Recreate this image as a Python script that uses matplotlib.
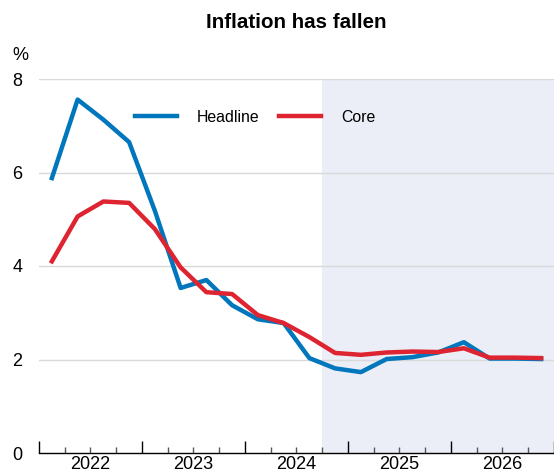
import numpy as np
import matplotlib.pyplot as plt

plt.rcParams['font.family'] = ['Liberation Sans', 'DejaVu Sans']

# Datos trimestrales (2022T1 - 2026T4)
anios = [2022, 2023, 2024, 2025, 2026]
trimestres = [1, 2, 3, 4]
headline = [5.88, 7.56, 7.13, 6.65, 5.18, 3.53, 3.70, 3.16, 2.86, 2.78,
            2.03, 1.81, 1.73, 2.01, 2.05, 2.15, 2.37, 2.02, 2.02, 2.01]
core = [4.10, 5.06, 5.38, 5.35, 4.79, 3.97, 3.44, 3.40, 2.95, 2.78,
        2.48, 2.14, 2.10, 2.15, 2.17, 2.16, 2.24, 2.04, 2.04, 2.03]
inicio_prevision = 2024.75

x = np.array([a + (q - 0.5) / 4 for a in anios for q in trimestres])

fig = plt.figure(figsize=(5.54, 4.75), dpi=100)
ax = fig.add_axes([39/554, 22/475, 1 - 39/554, 374/475])

ax.axvspan(inicio_prevision, 2027, color='#EBEEF6', lw=0, zorder=0)
for v in [2, 4, 6, 8]:
    ax.axhline(v, color='#D9D9D9', lw=1, zorder=1)

ax.plot(x, headline, color='#0077BD', lw=3.2, label='Headline', zorder=3)
ax.plot(x, core, color='#DD2430', lw=3.2, label='Core', zorder=4)

ax.set_xlim(2022, 2027)
ax.set_ylim(0, 8)
ax.set_yticks([0, 2, 4, 6, 8])
ax.tick_params(axis='y', length=0, labelsize=13, pad=12)

ax.set_xticks(range(2022, 2028))
ax.set_xticklabels([])
ax.set_xticks(np.arange(2022, 2027.01, 0.25), minor=True)
ax.tick_params(axis='x', which='major', direction='in', length=9, width=1, color='black')
ax.tick_params(axis='x', which='minor', direction='in', length=4, width=1, color='#555555')
# etiquetas de año centradas en cada año
for a in anios:
    ax.text(a + 0.5, -16/374, str(a), transform=ax.get_xaxis_transform(),
            ha='center', va='baseline', fontsize=13)

for s in ['top', 'right', 'left']:
    ax.spines[s].set_visible(False)
ax.spines['bottom'].set_linewidth(1)

ax.legend(loc='center left', bbox_to_anchor=(0.186, 0.898), ncol=2, frameon=False,
          fontsize=11.4, handlelength=2.66, columnspacing=1.2, handletextpad=1.27,
          borderpad=0, borderaxespad=0)

fig.text(20/554, 1 - 55/475, '%', ha='center', va='center', fontsize=13)
fig.text(296/554, 1 - 22/475, 'Inflation has fallen', ha='center', va='center',
         fontsize=14.8, fontweight='bold')

fig.savefig('out.png', dpi=100)
